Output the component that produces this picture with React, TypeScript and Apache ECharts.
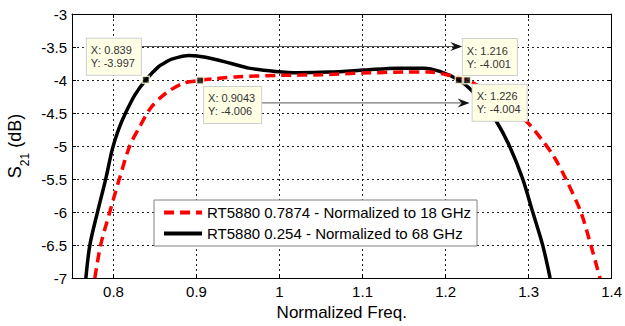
import React, { useEffect, useRef } from "react";
import * as echarts from "echarts";

// RT5880 0.7874 mm, normalized to 18 GHz (red dashed)
const FREQ_0787 = [
  0.7775, 0.7845, 0.7955, 0.807, 0.8195, 0.831, 0.845, 0.863, 0.884, 0.9043,
  0.923, 0.95, 1.0, 1.05, 1.1, 1.15, 1.18, 1.205, 1.226, 1.238, 1.26, 1.28,
  1.297, 1.317, 1.331, 1.345, 1.363, 1.375, 1.386,
];
const S21_0787 = [
  -7.0, -6.5, -6.0, -5.5, -5.0, -4.72, -4.42, -4.2, -4.05, -4.006,
  -3.98, -3.95, -3.93, -3.92, -3.895, -3.88, -3.88, -3.93, -4.004, -4.08, -4.3, -4.47,
  -4.62, -4.92, -5.17, -5.5, -6.0, -6.5, -7.0,
];

// RT5880 0.254 mm, normalized to 68 GHz (black solid)
const FREQ_0254 = [
  0.7667, 0.7715, 0.7807, 0.7906, 0.7985, 0.806, 0.8145, 0.826, 0.839, 0.854,
  0.863, 0.871, 0.891, 0.911, 0.942, 0.963, 0.995, 1.022, 1.06, 1.102, 1.142,
  1.174, 1.193, 1.216, 1.229, 1.245, 1.261, 1.277, 1.293, 1.305, 1.317, 1.326,
];
const S21_0254 = [
  -7.0, -6.5, -6.0, -5.5, -5.05, -4.75, -4.5, -4.22, -3.997, -3.8,
  -3.73, -3.68, -3.63, -3.655, -3.75, -3.82, -3.87, -3.89, -3.88, -3.85, -3.82,
  -3.82, -3.87, -4.001, -4.13, -4.35, -4.62, -5.0, -5.5, -6.0, -6.5, -7.0,
];

// Data cursor readouts
const TIP_FREQ = [0.839, 0.9043, 1.216, 1.226];
const TIP_S21 = [-3.997, -4.006, -4.001, -4.004];

const SERIES_NAMES = [
  "RT5880 0.7874 - Normalized to 18 GHz",
  "RT5880 0.254 - Normalized to 68 GHz",
];

const FONT = "'Liberation Sans', Arial, Helvetica, sans-serif";

const zip = (xs: number[], ys: number[]) => xs.map((x, i) => [x, ys[i]]);

let measureCtx: CanvasRenderingContext2D | null = null;
function textWidth(text: string, size: number): number {
  if (!measureCtx) measureCtx = document.createElement("canvas").getContext("2d");
  if (!measureCtx) return text.length * size * 0.55;
  measureCtx.font = `${size}px ${FONT}`;
  return measureCtx.measureText(text).width;
}

export default function App() {
  const ref = useRef<HTMLDivElement>(null);

  useEffect(() => {
    const chart = echarts.init(ref.current!, null, { renderer: "svg" });

    const axisCommon = {
      axisLine: { show: true, onZero: false, lineStyle: { color: "#000", width: 1 } },
      axisTick: { show: true, inside: true, length: 4, lineStyle: { color: "#000" } },
    };

    chart.setOption({
      animation: false,
      backgroundColor: "#fff",
      grid: { left: 72, right: 9, top: 14, bottom: 43, containLabel: false },
      xAxis: [
        {
          type: "value",
          min: 0.75,
          max: 1.4,
          splitNumber: 6,
          ...axisCommon,
          axisLabel: {
            showMinLabel: false,
            margin: 6,
            fontSize: 15,
            fontFamily: FONT,
            color: "#000",
          },
          splitLine: { show: true, lineStyle: { color: "#222", type: [2, 3], width: 1 } },
          name: "Normalized Freq.",
          nameLocation: "middle",
          nameGap: 21,
          nameTextStyle: { fontSize: 17, fontFamily: FONT, color: "#000" },
        },
        {
          type: "value",
          position: "top",
          min: 0.75,
          max: 1.4,
          splitNumber: 6,
          ...axisCommon,
          axisLabel: { show: false },
          splitLine: { show: false },
        },
      ],
      yAxis: [
        {
          type: "value",
          min: -7,
          max: -3,
          interval: 0.5,
          ...axisCommon,
          axisLabel: { margin: 5, fontSize: 15, fontFamily: FONT, color: "#000" },
          splitLine: { show: true, lineStyle: { color: "#222", type: [2, 3], width: 1 } },
        },
        {
          type: "value",
          position: "right",
          min: -7,
          max: -3,
          interval: 0.5,
          ...axisCommon,
          axisLabel: { show: false },
          splitLine: { show: false },
        },
      ],
      legend: {
        left: 154,
        top: 200,
        orient: "vertical",
        padding: [5, 6, 5, 8],
        itemGap: 6,
        itemWidth: 38,
        itemHeight: 14,
        backgroundColor: "#fff",
        borderColor: "#808080",
        borderWidth: 1,
        borderRadius: 0,
        itemStyle: { opacity: 0 },
        lineStyle: { width: 4 },
        textStyle: { fontSize: 15, fontFamily: FONT, color: "#000" },
        data: SERIES_NAMES,
      },
      series: [
        {
          name: SERIES_NAMES[0],
          type: "line",
          data: zip(FREQ_0787, S21_0787),
          showSymbol: false,
          symbol: "none",
          smooth: 0.3,
          lineStyle: { color: "#ff0000", width: 3.5, type: [10, 6], cap: "butt" },
          itemStyle: { color: "#ff0000" },
          z: 3,
        },
        {
          name: SERIES_NAMES[1],
          type: "line",
          data: zip(FREQ_0254, S21_0254),
          showSymbol: false,
          symbol: "none",
          smooth: 0.3,
          lineStyle: { color: "#000", width: 3.5 },
          itemStyle: { color: "#000" },
          z: 2,
        },
        {
          type: "scatter",
          data: zip(TIP_FREQ, TIP_S21),
          symbol: "rect",
          symbolSize: 7,
          itemStyle: { color: "#000", borderColor: "#ffffdc", borderWidth: 1.5 },
          z: 5,
        },
      ],
    });

    // Data-cursor boxes and annotation arrows
    const pts = TIP_FREQ.map((f, i) =>
      chart.convertToPixel({ xAxisIndex: 0, yAxisIndex: 0 }, [f, TIP_S21[i]]) as number[]
    );
    const tipFont = 11;
    const pad = [5, 6, 5, 4];
    const lineH = 13;
    const boxes = TIP_FREQ.map((f, i) => {
      const lines = [`X: ${f}`, `Y: ${TIP_S21[i]}`];
      const w = Math.max(...lines.map((l) => textWidth(l, tipFont))) + pad[1] + pad[3];
      const h = lines.length * lineH + pad[0] + pad[2];
      return { lines, w, h };
    });
    // corner placement of each box relative to its marker
    const place = [
      { dx: -5, dy: -5, h: "right", v: "bottom" },
      { dx: 4, dy: 6.5, h: "left", v: "top" },
      { dx: 4, dy: -5, h: "left", v: "bottom" },
      { dx: 5.5, dy: 4.5, h: "left", v: "top" },
    ];
    const rects = pts.map((p, i) => {
      const pl = place[i];
      const ax = p[0] + pl.dx;
      const ay = p[1] + pl.dy;
      const left = pl.h === "right" ? ax - boxes[i].w : ax;
      const top = pl.v === "bottom" ? ay - boxes[i].h : ay;
      return { left, top, right: left + boxes[i].w, bottom: top + boxes[i].h };
    });

    const tipEls = boxes.map((b, i) => ({
      type: "text",
      x: rects[i].left,
      y: rects[i].top,
      z: 100,
      style: {
        text: b.lines.join("\n"),
        font: `${tipFont}px ${FONT}`,
        fill: "#333",
        lineHeight: lineH,
        align: "left",
        verticalAlign: "top",
        backgroundColor: "#ffffe6",
        borderColor: "#cfcfcf",
        borderWidth: 1,
        padding: pad,
      },
    }));

    const arrow = (x0: number, x1: number, y: number) => [
      {
        type: "line",
        z: 99,
        shape: { x1: x0, y1: y, x2: x1 - 7, y2: y },
        style: { stroke: "#555", lineWidth: 1 },
      },
      {
        type: "polygon",
        z: 99,
        shape: {
          points: [
            [x1, y],
            [x1 - 12, y - 4.5],
            [x1 - 8, y],
            [x1 - 12, y + 4.5],
          ],
        },
        style: { fill: "#111" },
      },
    ];

    const arrows = [
      ...arrow(rects[0].right, rects[2].left - 0.5, rects[0].top + 7.7),
      ...arrow(rects[1].right, rects[3].left - 3, rects[1].top + 16),
    ];

    // y-axis title with subscript, rotated to read bottom-to-top
    const big = 18;
    const small = 12;
    const wS = textWidth("S", big);
    const w21 = textWidth("21", small);
    const wSp = textWidth(" ", big);
    const wDb = textWidth("(dB)", big);
    const total = wS + w21 + wSp + wDb;
    const yTitle = {
      type: "group",
      x: 24,
      y: 146 + total / 2,
      rotation: Math.PI / 2,
      children: [
        {
          type: "text",
          x: 0,
          y: 0,
          style: { text: "S", font: `${big}px ${FONT}`, fill: "#000", align: "left", verticalAlign: "bottom" },
        },
        {
          type: "text",
          x: wS,
          y: 7,
          style: { text: "21", font: `${small}px ${FONT}`, fill: "#000", align: "left", verticalAlign: "bottom" },
        },
        {
          type: "text",
          x: wS + w21 + wSp,
          y: 0,
          style: { text: "(dB)", font: `${big}px ${FONT}`, fill: "#000", align: "left", verticalAlign: "bottom" },
        },
      ],
    };

    chart.setOption({ graphic: [...arrows, ...tipEls, yTitle] });

    return () => chart.dispose();
  }, []);

  return (
    <div
      ref={ref}
      style={{ position: "fixed", left: 0, top: 0, width: 625, height: 326, background: "#fff" }}
    />
  );
}
